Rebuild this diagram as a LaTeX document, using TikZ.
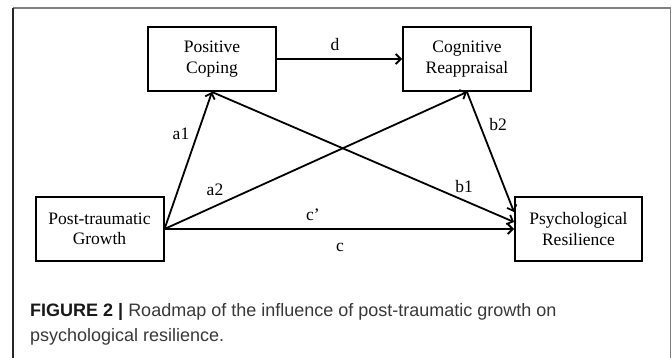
\documentclass[tikz,border=0pt]{standalone}
\usepackage{fontspec}
\setmainfont{Liberation Serif}
\newfontfamily\capfont{Liberation Sans}
\usetikzlibrary{arrows.meta}

\tikzset{
  var/.style={draw, line width=2pt, minimum width=128pt, minimum height=64pt,
    inner sep=0pt, align=center, font=\fontsize{17.5}{20.5}\selectfont},
  arr/.style={line width=1.8pt, -{Straight Barb[length=5pt,width=10pt]}},
  lab/.style={inner sep=0pt, font=\fontsize{17.5}{20}\selectfont},
  captext/.style={inner sep=0pt, anchor=base west, text=black!78,
    font=\capfont\fontsize{18}{25}\selectfont},
}

\begin{document}
\begin{tikzpicture}[x=1pt,y=-1pt]
  \useasboundingbox (0,0) rectangle (672,358);
  % frame
  \draw[black!50, line width=1.5pt] (13,8) -- (670.5,8) -- (670.5,358);
  \draw[black!85, line width=1.2pt] (13,8) -- (13,358);
  % variables
  \node[var] (pc) at (212,59) {Positive\\Coping};
  \node[var] (cr) at (467,59) {Cognitive\\Reappraisal};
  \node[var] (ptg) at (99.5,229) {Post-traumatic\\Growth};
  \node[var, minimum width=127pt] (pr) at (578.5,229) {Psychological\\Resilience};
  % paths
  \draw[arr] (pc) -- (cr);
  \draw[arr] (ptg.east) -- (pc.south);
  \draw[arr] (ptg.east) -- (cr.south);
  \draw[arr] (ptg.east) -- (pr.west);
  \draw[arr] (pc.south) -- ([yshift=7pt]pr.west);
  \draw[arr] (cr.south) -- ([yshift=17pt]pr.west);
  % coefficients
  \node[lab] (d) at (335,45) {d};
  \node[lab] (a1) at (181,134) {a1};
  \node[lab] (a2) at (215,190) {a2};
  \node[lab] (b1) at (464,187) {b1};
  \node[lab] (b2) at (498,125) {b2};
  \node[lab] (cp) at (313,215) {c’};
  \node[lab] (c) at (340,247) {c};
  % caption
  \node[captext] (cap1) at (30,316) {\textbf{\color{black!90}FIGURE 2 |} Roadmap of the influence of post-traumatic growth on};
  \node[captext] (cap2) at (30,341) {psychological resilience.};
\end{tikzpicture}
\end{document}
